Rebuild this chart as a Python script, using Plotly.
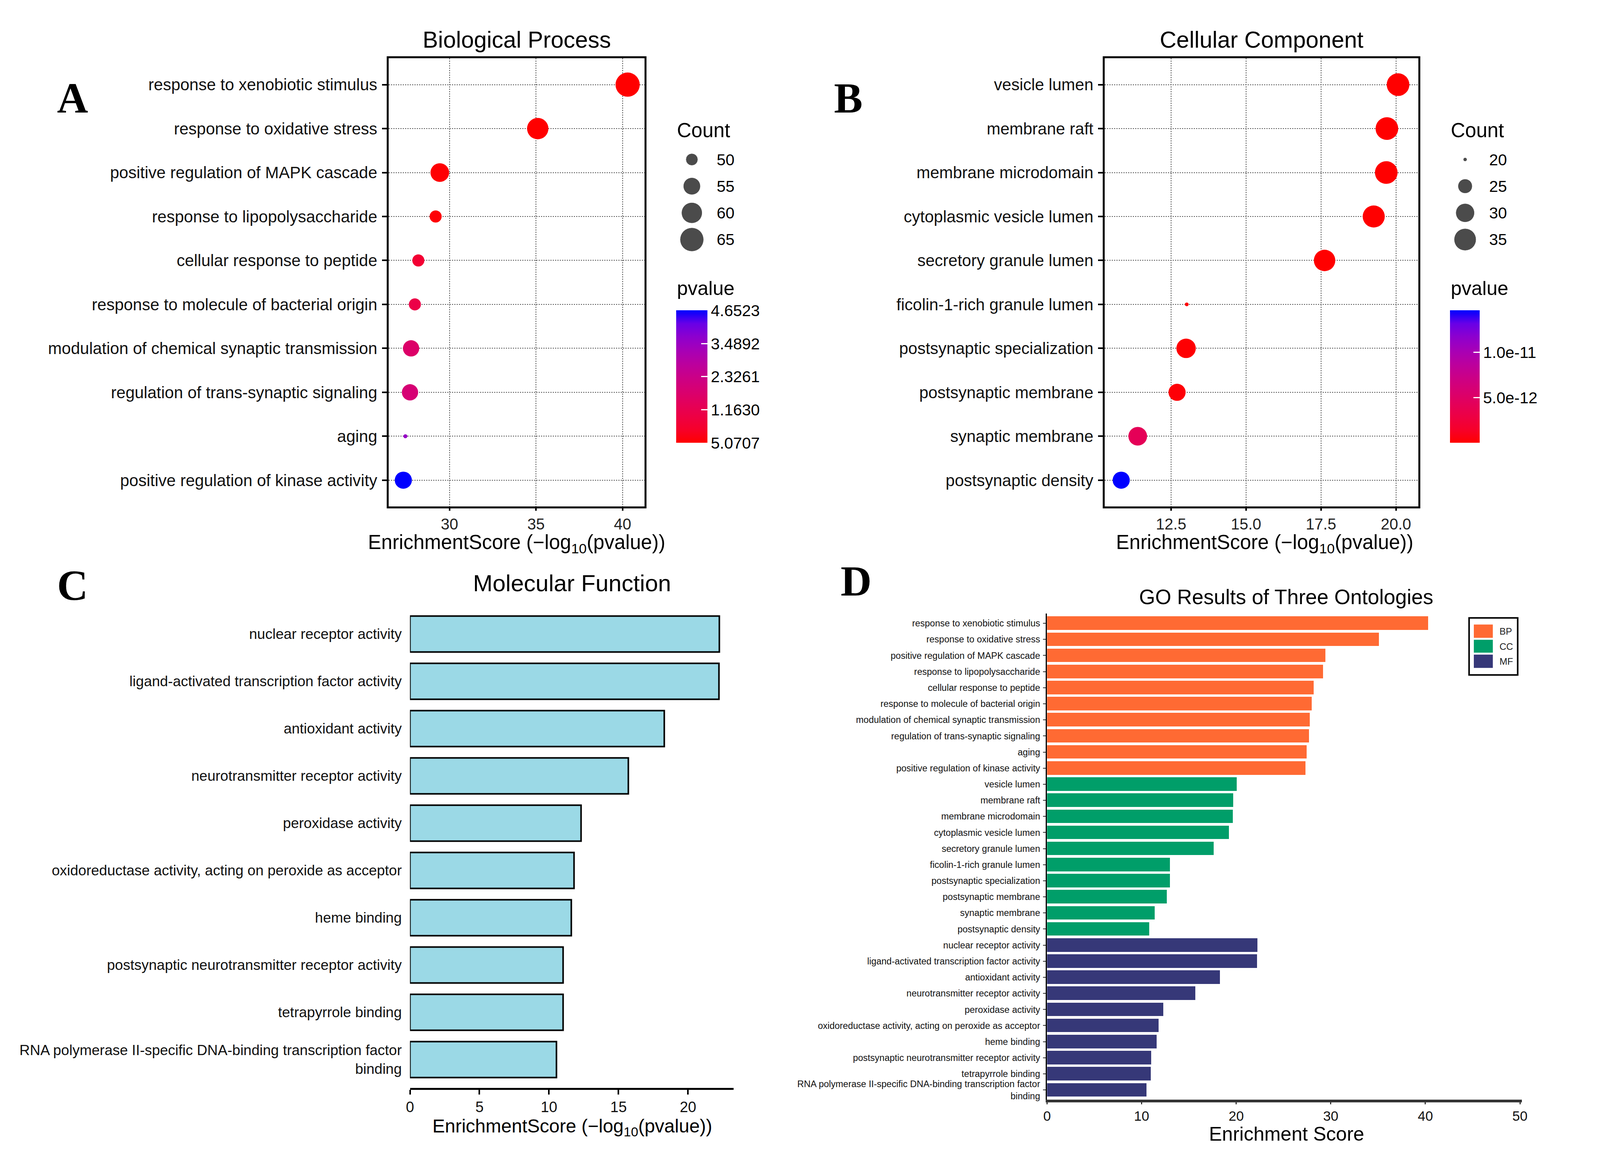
import numpy as np
import plotly.graph_objects as go

FONT = "Liberation Sans, Arial, Helvetica, sans-serif"
SERIF = "Liberation Serif, Times New Roman, serif"

# ---- Biological Process (BP) ----
bp_terms = [
    "response to xenobiotic stimulus",
    "response to oxidative stress",
    "positive regulation of MAPK cascade",
    "response to lipopolysaccharide",
    "cellular response to peptide",
    "response to molecule of bacterial origin",
    "modulation of chemical synaptic transmission",
    "regulation of trans-synaptic signaling",
    "aging",
    "positive regulation of kinase activity",
]
bp_pvalue = [5.0707e-41, 7.94e-36, 3.63e-30, 6.31e-30, 6.31e-29,
             1.00e-28, 1.66e-28, 1.91e-28, 3.55e-28, 4.6523e-28]
bp_count = [66, 61, 57, 50, 50, 50, 54, 54, 47, 55]

# ---- Cellular Component (CC) ----
cc_terms = [
    "vesicle lumen",
    "membrane raft",
    "membrane microdomain",
    "cytoplasmic vesicle lumen",
    "secretory granule lumen",
    "ficolin-1-rich granule lumen",
    "postsynaptic specialization",
    "postsynaptic membrane",
    "synaptic membrane",
    "postsynaptic density",
]
cc_pvalue = [8.5e-21, 2.0e-20, 2.1e-20, 5.5e-20, 2.4e-18,
             9.5e-14, 1.0e-13, 2.0e-13, 4.1e-12, 1.46e-11]
cc_count = [36, 36, 36, 35, 34, 20, 31, 28, 30, 28]

# ---- Molecular Function (MF) ----
mf_terms = [
    "nuclear receptor activity",
    "ligand-activated transcription factor activity",
    "antioxidant activity",
    "neurotransmitter receptor activity",
    "peroxidase activity",
    "oxidoreductase activity, acting on peroxide as acceptor",
    "heme binding",
    "postsynaptic neurotransmitter receptor activity",
    "tetrapyrrole binding",
    "RNA polymerase II-specific DNA-binding transcription factor<br>binding",
]
mf_pvalue = [5.6e-23, 6.0e-23, 5.0e-19, 2.0e-16, 5.0e-13,
             1.6e-12, 2.5e-12, 9.5e-12, 1.0e-11, 3.0e-11]

# legend breaks / colorbar ticks
bp_size_breaks = [50, 55, 60, 65]
cc_size_breaks = [20, 25, 30, 35]
bp_color_ticks = [4.6523e-28, 3.4892e-28, 2.3261e-28, 1.1630e-28, 5.0707e-41]
bp_color_text = ["4.6523", "3.4892", "2.3261", "1.1630", "5.0707"]
cc_color_ticks = [1.0e-11, 5.0e-12]
cc_color_text = ["1.0e-11", "5.0e-12"]

ont_names = ["BP", "CC", "MF"]
ont_colors = ["#FF6A33", "#009E69", "#363878"]

bp_score = -np.log10(bp_pvalue)
cc_score = -np.log10(cc_pvalue)
mf_score = -np.log10(mf_pvalue)

# red -> blue gradient interpolated in CIELAB, like ggplot's scale_colour_gradient
M = np.array([[0.4124, 0.3576, 0.1805], [0.2126, 0.7152, 0.0722], [0.0193, 0.1192, 0.9505]])
WHITE = np.array([0.95047, 1.0, 1.08883])


def hex_to_lab(h):
    rgb = np.array([int(h[i:i + 2], 16) for i in (1, 3, 5)]) / 255
    lin = np.where(rgb <= 0.04045, rgb / 12.92, ((rgb + 0.055) / 1.055) ** 2.4)
    xyz = M @ lin / WHITE
    f = np.where(xyz > 0.008856, np.cbrt(xyz), 7.787 * xyz + 16 / 116)
    return np.array([116 * f[1] - 16, 500 * (f[0] - f[1]), 200 * (f[1] - f[2])])


def lab_to_hex(lab):
    fy = (lab[0] + 16) / 116
    f = np.array([fy + lab[1] / 500, fy, fy - lab[2] / 200])
    xyz = np.where(f ** 3 > 0.008856, f ** 3, (f - 16 / 116) / 7.787) * WHITE
    lin = np.clip(np.linalg.inv(M) @ xyz, 0, 1)
    rgb = np.where(lin <= 0.0031308, 12.92 * lin, 1.055 * lin ** (1 / 2.4) - 0.055)
    r, g, b = (np.clip(rgb, 0, 1) * 255).round().astype(int)
    return "#%02X%02X%02X" % (r, g, b)


lab_lo, lab_hi = hex_to_lab("#FF0000"), hex_to_lab("#0000FF")
red_blue = [[i / 10, lab_to_hex(lab_lo + (lab_hi - lab_lo) * i / 10)] for i in range(11)]

# stepped colorscale for the ontology key
n_ont = len(ont_names)
ont_scale = []
for i, c in enumerate(ont_colors):
    ont_scale += [[i / n_ont, c], [(i + 1) / n_ont, c]]


def gg_size(vals, lo, hi, dmax):
    # ggplot area scale: size range 1..6
    t = np.clip((np.asarray(vals, float) - lo) / (hi - lo), 0, 1)
    return dmax / 6 * (1 + 5 * np.sqrt(t))


fig = go.Figure()

# Panel A: dot plot
bp_lo, bp_hi = min(bp_count), max(bp_count)
fig.add_trace(go.Scatter(
    x=bp_score, y=bp_terms, mode="markers", xaxis="x", yaxis="y", showlegend=False,
    marker=dict(size=gg_size(bp_count, bp_lo, bp_hi, 62), color=bp_pvalue,
                colorscale=red_blue, cmin=min(bp_pvalue), cmax=max(bp_pvalue),
                line=dict(width=0), opacity=1,
                colorbar=dict(x=0.4222, xanchor="left", y=0.6735, yanchor="middle",
                              len=0.1157, lenmode="fraction", thickness=80, xpad=0, ypad=0,
                              outlinewidth=0, tickvals=bp_color_ticks, ticktext=bp_color_text,
                              ticks="inside", ticklen=16, tickwidth=3, tickcolor="white",
                              tickfont=dict(size=41, family=FONT, color="black"))),
))
fig.add_trace(go.Scatter(
    x=np.zeros(len(bp_size_breaks)), y=[str(b) for b in bp_size_breaks], mode="markers",
    xaxis="x5", yaxis="y5", showlegend=False, hoverinfo="skip",
    marker=dict(size=gg_size(bp_size_breaks, bp_lo, bp_hi, 62), color="black"),
))

# Panel B: dot plot
cc_lo, cc_hi = min(cc_count), max(cc_count)
fig.add_trace(go.Scatter(
    x=cc_score, y=cc_terms, mode="markers", xaxis="x2", yaxis="y2", showlegend=False,
    marker=dict(size=gg_size(cc_count, cc_lo, cc_hi, 58), color=cc_pvalue,
                colorscale=red_blue, cmin=min(cc_pvalue), cmax=max(cc_pvalue),
                line=dict(width=0), opacity=1,
                colorbar=dict(x=0.911, xanchor="left", y=0.6735, yanchor="middle",
                              len=0.1157, lenmode="fraction", thickness=76, xpad=0, ypad=0,
                              outlinewidth=0, tickvals=cc_color_ticks, ticktext=cc_color_text,
                              ticks="inside", ticklen=16, tickwidth=3, tickcolor="white",
                              tickfont=dict(size=41, family=FONT, color="black"))),
))
fig.add_trace(go.Scatter(
    x=np.zeros(len(cc_size_breaks)), y=[str(b) for b in cc_size_breaks], mode="markers",
    xaxis="x6", yaxis="y6", showlegend=False, hoverinfo="skip",
    marker=dict(size=gg_size(cc_size_breaks, cc_lo, cc_hi, 58), color="black"),
))

# Panel C: MF bars
fig.add_trace(go.Bar(
    x=mf_score, y=mf_terms, orientation="h", xaxis="x3", yaxis="y3", width=0.76,
    showlegend=False, marker=dict(color="#9BD9E6", line=dict(color="black", width=4)),
))

# Panel D: all three ontologies
for name, color, terms, score in zip(ont_names, ont_colors,
                                     [bp_terms, cc_terms, mf_terms],
                                     [bp_score, cc_score, mf_score]):
    fig.add_trace(go.Bar(
        x=score, y=terms, orientation="h", xaxis="x4", yaxis="y4", width=0.84,
        name=name, showlegend=False, marker=dict(color=color, line=dict(width=0)),
    ))

# Panel D key (BP / CC / MF swatches)
fig.add_trace(go.Heatmap(
    z=[[i] for i in range(n_ont)], y=ont_names, x=["key"], xaxis="x7", yaxis="y7",
    colorscale=ont_scale, zmin=0, zmax=n_ont, showscale=False, ygap=5, hoverinfo="skip",
))

dot_x = dict(showgrid=True, gridcolor="#555555", griddash="dot", gridwidth=2,
             showline=True, mirror=True, linecolor="black", linewidth=5,
             ticks="outside", ticklen=6, tickwidth=4, tickcolor="black",
             tickfont=dict(size=40, family=FONT, color="#222222"), zeroline=False)
dot_y = dict(type="category", showgrid=True, gridcolor="#555555", griddash="dot", gridwidth=2,
             showline=True, mirror=True, linecolor="black", linewidth=5,
             ticks="outside", ticklen=12, tickwidth=4, tickcolor="black",
             ticklabelstandoff=4, tickfont=dict(size=42, family=FONT, color="#111111"),
             zeroline=False)
legend_x = dict(visible=False, range=[-1, 1], fixedrange=True)
legend_y = dict(type="category", side="right", range=[3.5, -0.5], showgrid=False,
                showline=False, ticks="", zeroline=False, ticklabelstandoff=22,
                tickfont=dict(size=41, family=FONT, color="black"))

all_terms = bp_terms + cc_terms + mf_terms

fig.update_layout(
    margin=dict(l=0, r=0, t=0, b=0),
    paper_bgcolor="white", plot_bgcolor="white",
    font=dict(family=FONT, color="black"),
    bargap=0, showlegend=False,
    xaxis=dict(dot_x, domain=[0.2408, 0.4023], range=[26.49, 41.27], tickvals=[30, 35, 40], anchor="y"),
    yaxis=dict(dot_y, domain=[0.560, 0.9518], categoryorder="array", categoryarray=bp_terms,
               range=[9.6, -0.6], anchor="x"),
    xaxis2=dict(dot_x, domain=[0.693, 0.891], range=[10.29, 20.75],
                tickvals=[12.5, 15, 17.5, 20], ticktext=["12.5", "15.0", "17.5", "20.0"], anchor="y2"),
    yaxis2=dict(dot_y, domain=[0.560, 0.9518], categoryorder="array", categoryarray=cc_terms,
                range=[9.6, -0.6], anchor="x2"),
    xaxis3=dict(domain=[0.2542, 0.4585], range=[0, 23.27], tickvals=[0, 5, 10, 15, 20],
                showgrid=False, zeroline=False, showline=True, linecolor="black", linewidth=5,
                ticks="outside", ticklen=12, tickwidth=4, tickcolor="black",
                tickfont=dict(size=38, family=FONT, color="#111111"), anchor="y3"),
    yaxis3=dict(type="category", domain=[0.052, 0.4735], categoryorder="array",
                categoryarray=mf_terms, range=[9.6, -0.6], showgrid=False, showline=False,
                ticks="", zeroline=False, ticklabelstandoff=20,
                tickfont=dict(size=37, family=FONT, color="#111111"), anchor="x3"),
    xaxis4=dict(domain=[0.6565, 0.9563], range=[0, 50.2], tickvals=[0, 10, 20, 30, 40, 50],
                showgrid=False, zeroline=False, showline=True, linecolor="#333333", linewidth=7,
                ticks="outside", ticklen=5, tickwidth=3, tickcolor="#333333",
                tickfont=dict(size=35, family=FONT, color="#111111"), anchor="y4"),
    yaxis4=dict(type="category", domain=[0.0417, 0.4664], categoryorder="array",
                categoryarray=all_terms, range=[29.6, -0.6], showgrid=False, zeroline=False,
                showline=True, linecolor="black", linewidth=3, ticks="outside", ticklen=7,
                tickwidth=2, tickcolor="#333333", ticklabelstandoff=3,
                tickfont=dict(size=23.5, family=FONT, color="#111111"), anchor="x4"),
    xaxis5=dict(legend_x, domain=[0.4222, 0.4422], anchor="y5"),
    yaxis5=dict(legend_y, domain=[0.7817, 0.875], categoryorder="array",
                categoryarray=[str(b) for b in bp_size_breaks], anchor="x5"),
    xaxis6=dict(legend_x, domain=[0.911, 0.93], anchor="y6"),
    yaxis6=dict(legend_y, domain=[0.7817, 0.875], categoryorder="array",
                categoryarray=[str(b) for b in cc_size_breaks], anchor="x6"),
    xaxis7=dict(visible=False, domain=[0.926, 0.938], anchor="y7"),
    yaxis7=dict(type="category", domain=[0.4179, 0.4576], categoryorder="array",
                categoryarray=ont_names, range=[2.5, -0.5], side="right", showgrid=False,
                showline=False, ticks="", zeroline=False, ticklabelstandoff=16,
                tickfont=dict(size=24, family=FONT, color="#222222"), anchor="x7"),
    shapes=[dict(type="rect", xref="paper", yref="paper", x0=0.923, x1=0.9537,
                 y0=0.4128, y1=0.4627, line=dict(color="black", width=4))],
)


def label(text, x, y, size, xanchor="center", yanchor="middle", family=FONT, bold=False):
    fig.add_annotation(text=f"<b>{text}</b>" if bold else text, x=x, y=y, xref="paper",
                       yref="paper", xanchor=xanchor, yanchor=yanchor, showarrow=False,
                       font=dict(size=size, family=family, color="black"))


axis_title = "EnrichmentScore (−log<sub>10</sub>(pvalue))"
label("Biological Process", 0.3216, 0.968, 59)
label(axis_title, 0.3216, 0.5275, 51)
label("Cellular Component", 0.792, 0.968, 59)
label(axis_title, 0.794, 0.5275, 51)
label("Molecular Function", 0.3565, 0.4929, 60)
label(axis_title, 0.3567, 0.0175, 48)
label("GO Results of Three Ontologies", 0.8075, 0.481, 53)
label("Enrichment Score", 0.8078, 0.0115, 50)

for x0 in (0.4222, 0.911):
    label("Count", x0, 0.8887, 51, xanchor="left")
    label("pvalue", x0, 0.7405, 50, xanchor="left", yanchor="bottom")

label("A", 0.041, 0.917, 110, family=SERIF, bold=True)
label("B", 0.531, 0.917, 110, family=SERIF, bold=True)
label("C", 0.041, 0.491, 110, family=SERIF, bold=True)
label("D", 0.536, 0.495, 110, family=SERIF, bold=True)

fig.write_html("out.html")
